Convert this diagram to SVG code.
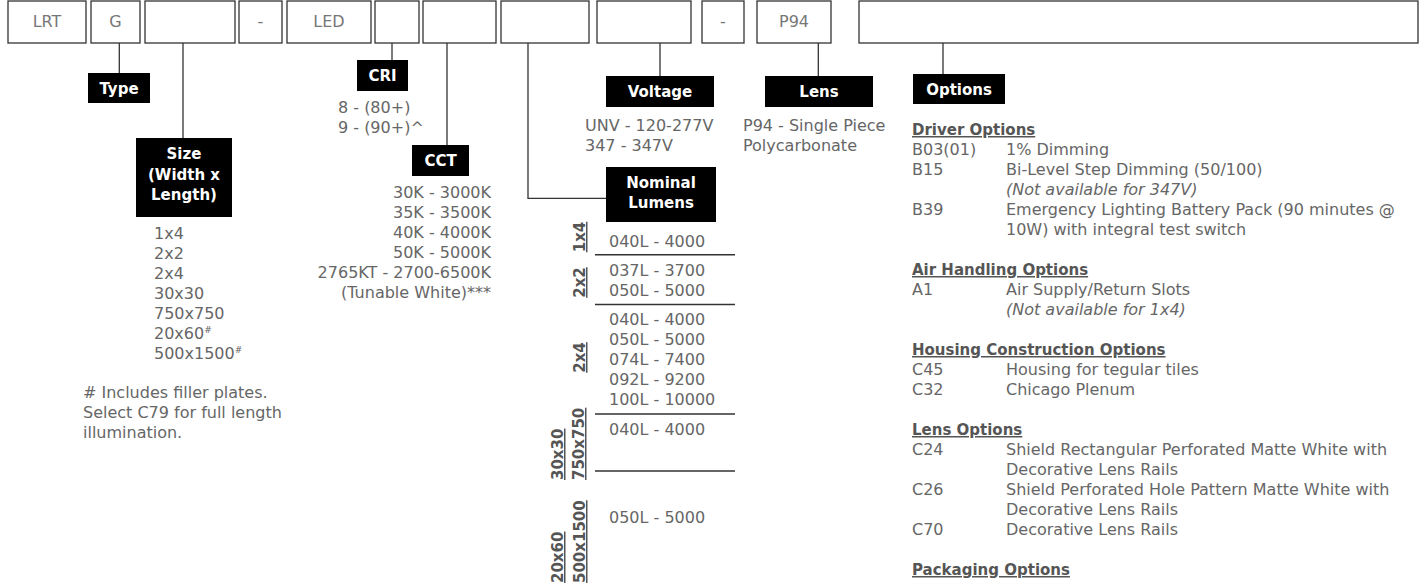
<svg xmlns="http://www.w3.org/2000/svg" width="1419" height="588" viewBox="0 0 1419 588">
<style>
.box{fill:#fff;stroke:#333;stroke-width:1.3}
.bt{font-family:"DejaVu Sans","Noto Sans",sans-serif;font-size:16px;fill:#777;text-anchor:middle}
.lab{fill:#000}
.lt{font-family:"DejaVu Sans","Noto Sans",sans-serif;font-size:15px;font-weight:bold;fill:#fff;text-anchor:middle}
.v{font-family:"DejaVu Sans","Noto Sans",sans-serif;font-size:16px;fill:#666}
.r{text-anchor:end}
.h{font-family:"DejaVu Sans","Noto Sans",sans-serif;font-size:15px;font-weight:bold;fill:#555;text-decoration:underline}
.rot{font-family:"DejaVu Sans","Noto Sans",sans-serif;font-size:15px;font-weight:bold;fill:#555;text-decoration:underline}
.c{fill:none;stroke:#333;stroke-width:1.3}
.sep{stroke:#333;stroke-width:1.5}
</style>
<g id="boxes">
<g id="b-lrt"><rect class="box" x="8" y="1" width="78" height="42"/><text class="bt" x="47" y="27">LRT</text></g>
<g id="b-g"><rect class="box" x="91" y="1" width="49" height="42"/><text class="bt" x="115.5" y="27">G</text></g>
<g id="b-size"><rect class="box" x="145" y="1" width="90" height="42"/></g>
<g id="b-dash1"><rect class="box" x="239" y="1" width="43" height="42"/><text class="bt" x="260.5" y="27">-</text></g>
<g id="b-led"><rect class="box" x="287" y="1" width="84" height="42"/><text class="bt" x="329" y="27">LED</text></g>
<g id="b-cri"><rect class="box" x="375" y="1" width="44" height="42"/></g>
<g id="b-cct"><rect class="box" x="423" y="1" width="73" height="42"/></g>
<g id="b-lum"><rect class="box" x="501" y="1" width="88" height="42"/></g>
<g id="b-volt"><rect class="box" x="597" y="1" width="94" height="42"/></g>
<g id="b-dash2"><rect class="box" x="702" y="1" width="42" height="42"/><text class="bt" x="723" y="27">-</text></g>
<g id="b-p94"><rect class="box" x="757" y="1" width="74" height="42"/><text class="bt" x="794" y="27">P94</text></g>
<g id="b-opt"><rect class="box" x="859" y="1" width="559" height="42"/></g>
</g>
<g id="connectors">
<path class="c" d="M119.3 43V73"/>
<path class="c" d="M183 43V138"/>
<path class="c" d="M392 43V60"/>
<path class="c" d="M447 43V145"/>
<path class="c" d="M528 43V198.3H606"/>
<path class="c" d="M660 43V76"/>
<path class="c" d="M818.3 43V76"/>
<path class="c" d="M943 43V74"/>
</g>
<g id="type">
<rect class="lab" x="88" y="73" width="62" height="30"/><text class="lt" x="119" y="93.5">Type</text>
</g>
<g id="size">
<rect class="lab" x="136" y="138" width="96" height="79"/>
<text class="lt" x="184" y="159">Size</text>
<text class="lt" x="184" y="179.5">(Width x</text>
<text class="lt" x="184" y="200">Length)</text>
<text class="v"><tspan x="154" y="239">1x4</tspan><tspan x="154" y="259">2x2</tspan><tspan x="154" y="279">2x4</tspan><tspan x="154" y="299">30x30</tspan><tspan x="154" y="319">750x750</tspan><tspan x="154" y="339">20x60<tspan font-size="9" dy="-6">#</tspan></tspan><tspan x="154" y="359">500x1500<tspan font-size="9" dy="-6">#</tspan></tspan></text>
<text class="v"><tspan x="83" y="398"># Includes filler plates.</tspan><tspan x="83" y="418">Select C79 for full length</tspan><tspan x="83" y="438">illumination.</tspan></text>
</g>
<g id="cri">
<rect class="lab" x="357" y="60" width="51" height="31"/><text class="lt" x="382.5" y="81">CRI</text>
<text class="v"><tspan x="338" y="112.5">8 - (80+)</tspan><tspan x="338" y="132.5">9 - (90+)^</tspan></text>
</g>
<g id="cct">
<rect class="lab" x="412" y="145" width="57" height="31"/><text class="lt" x="440.5" y="166">CCT</text>
<text class="v r"><tspan x="491" y="197.5">30K - 3000K</tspan><tspan x="491" y="217.5">35K - 3500K</tspan><tspan x="491" y="237.5">40K - 4000K</tspan><tspan x="491" y="257.5">50K - 5000K</tspan><tspan x="491" y="277.5">2765KT - 2700-6500K</tspan><tspan x="491" y="297.5">(Tunable White)***</tspan></text>
</g>
<g id="voltage">
<rect class="lab" x="606" y="76" width="108" height="31"/><text class="lt" x="660" y="97">Voltage</text>
<text class="v"><tspan x="585" y="131">UNV - 120-277V</tspan><tspan x="585" y="151">347 - 347V</tspan></text>
</g>
<g id="lens">
<rect class="lab" x="765" y="76" width="108" height="31"/><text class="lt" x="819" y="97">Lens</text>
<text class="v"><tspan x="743" y="131">P94 - Single Piece</tspan><tspan x="743" y="151">Polycarbonate</tspan></text>
</g>
<g id="lumens">
<rect class="lab" x="606" y="167" width="110" height="55"/>
<text class="lt" x="661" y="187.5">Nominal</text>
<text class="lt" x="661" y="208">Lumens</text>
<text class="v"><tspan x="609" y="246.5">040L - 4000</tspan><tspan x="609" y="276">037L - 3700</tspan><tspan x="609" y="296">050L - 5000</tspan><tspan x="609" y="325">040L - 4000</tspan><tspan x="609" y="345">050L - 5000</tspan><tspan x="609" y="365">074L - 7400</tspan><tspan x="609" y="385">092L - 9200</tspan><tspan x="609" y="405">100L - 10000</tspan><tspan x="609" y="435">040L - 4000</tspan><tspan x="609" y="523">050L - 5000</tspan></text>
<path class="sep" d="M595 254.7H735M595 304.5H735M595 414H735M595 471H735"/>
<text class="rot" text-anchor="middle" transform="translate(585 237) rotate(-90)">1x4</text>
<text class="rot" text-anchor="middle" transform="translate(585 282.5) rotate(-90)">2x2</text>
<text class="rot" text-anchor="middle" transform="translate(585 357.5) rotate(-90)">2x4</text>
<text class="rot" transform="translate(563 480) rotate(-90)">30x30</text>
<text class="rot" transform="translate(584 480) rotate(-90)">750x750</text>
<text class="rot" transform="translate(563 583) rotate(-90)">20x60</text>
<text class="rot" transform="translate(585 583) rotate(-90)">500x1500</text>
</g>
<g id="options">
<rect class="lab" x="913" y="74" width="92" height="30"/><text class="lt" x="959" y="95">Options</text>
<text class="h" x="912" y="135">Driver Options</text>
<text class="v"><tspan x="912" y="155">B03(01)</tspan><tspan x="1006" y="155">1% Dimming</tspan><tspan x="912" y="175">B15</tspan><tspan x="1006" y="175">Bi-Level Step Dimming (50/100)</tspan><tspan x="1006" y="195" font-style="italic">(Not available for 347V)</tspan><tspan x="912" y="215">B39</tspan><tspan x="1006" y="215">Emergency Lighting Battery Pack (90 minutes @</tspan><tspan x="1006" y="235">10W) with integral test switch</tspan></text>
<text class="h" x="912" y="275">Air Handling Options</text>
<text class="v"><tspan x="912" y="295">A1</tspan><tspan x="1006" y="295">Air Supply/Return Slots</tspan><tspan x="1006" y="315" font-style="italic">(Not available for 1x4)</tspan></text>
<text class="h" x="912" y="355">Housing Construction Options</text>
<text class="v"><tspan x="912" y="375">C45</tspan><tspan x="1006" y="375">Housing for tegular tiles</tspan><tspan x="912" y="395">C32</tspan><tspan x="1006" y="395">Chicago Plenum</tspan></text>
<text class="h" x="912" y="435">Lens Options</text>
<text class="v"><tspan x="912" y="455">C24</tspan><tspan x="1006" y="455">Shield Rectangular Perforated Matte White with</tspan><tspan x="1006" y="475">Decorative Lens Rails</tspan><tspan x="912" y="495">C26</tspan><tspan x="1006" y="495">Shield Perforated Hole Pattern Matte White with</tspan><tspan x="1006" y="515">Decorative Lens Rails</tspan><tspan x="912" y="535">C70</tspan><tspan x="1006" y="535">Decorative Lens Rails</tspan></text>
<text class="h" x="912" y="575">Packaging Options</text>
</g>
</svg>
